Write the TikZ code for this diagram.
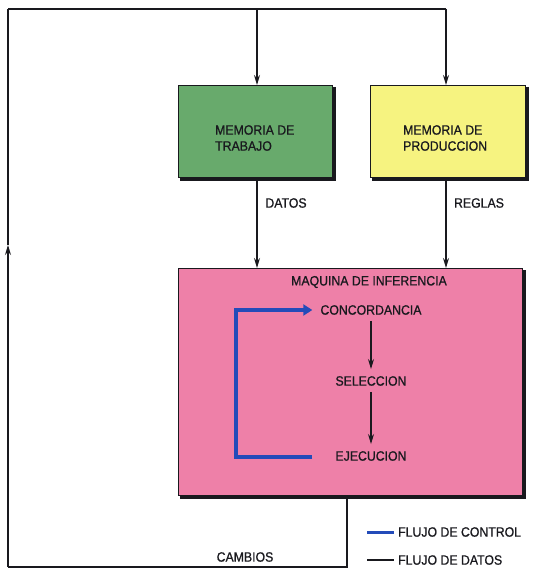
\documentclass[tikz,border=0pt]{standalone}
\usepackage{fontspec}
\setmainfont{Liberation Sans}
\usetikzlibrary{arrows.meta}
\definecolor{boxgreen}{RGB}{104,170,108}
\definecolor{boxyellow}{RGB}{246,243,128}
\definecolor{boxpink}{RGB}{238,128,168}
\definecolor{ctrlblue}{RGB}{35,75,185}
\definecolor{ink}{RGB}{25,25,30}
\tikzset{
  blk/.style={draw=ink, line width=1.2pt, inner sep=0pt, anchor=north west},
  shade/.style={draw=ink, line width=2.8pt},
  lbl/.style={font=\fontsize{13.5}{16}\selectfont\addfontfeature{FakeStretch=0.91,FakeBold=0.8}, text=ink, inner sep=0pt},
  data/.style={draw=ink, line width=1.2pt, -{Stealth[length=10pt,width=6pt]}},
  plain/.style={draw=ink, line width=1.2pt},
  ctrl/.style={draw=ctrlblue, line width=3.6pt},
}
\begin{document}
\begin{tikzpicture}[x=1pt,y=-1pt]
\useasboundingbox (0,0) rectangle (539,569);
% boxes
\node[blk, fill=boxgreen, minimum width=154pt, minimum height=92pt] (mt) at (178,85) {};
\node[blk, fill=boxyellow, minimum width=155pt, minimum height=92pt] (mp) at (370,85) {};
\node[blk, fill=boxpink, minimum width=344pt, minimum height=227pt] (mi) at (178,268) {};
% shadow edges (right and bottom)
\draw[shade] ([xshift=1pt,yshift=-2pt]mt.north east) -- ([xshift=1pt,yshift=-1pt]mt.south east) -- ([xshift=2pt,yshift=-1pt]mt.south west);
\draw[shade] ([xshift=1pt,yshift=-2pt]mp.north east) -- ([xshift=1pt,yshift=-1pt]mp.south east) -- ([xshift=2pt,yshift=-1pt]mp.south west);
\draw[shade] ([xshift=1pt,yshift=-2pt]mi.north east) -- ([xshift=1pt,yshift=-1pt]mi.south east) -- ([xshift=2pt,yshift=-1pt]mi.south west);
% box texts
\node[lbl, anchor=west, align=left] (tmt) at (215,138) {MEMORIA DE\\TRABAJO};
\node[lbl, anchor=west, align=left] (tmp) at (403,138) {MEMORIA DE\\PRODUCCION};
\node[lbl] (tmi) at (369,282) {MAQUINA DE INFERENCIA};
\node[lbl] (conc) at (371,310) {CONCORDANCIA};
\node[lbl] (sel) at (371,381) {SELECCION};
\node[lbl] (eje) at (371,456) {EJECUCION};
% labels
\node[lbl] (datos) at (286,203) {DATOS};
\node[lbl] (reglas) at (479,203) {REGLAS};
\node[lbl] (cambios) at (245,557) {CAMBIOS};
% coordinates of the outer loop
\coordinate (tl) at (8,9);
\coordinate (tr) at (446,9);
\coordinate (tm) at (257,9);
\coordinate (bl) at (8,567);
\coordinate (br) at (347,567);
\coordinate (mib) at (347,495);
\coordinate (la) at (8,245);
% outer loop
\draw[plain] (tl) -- (tr);
\draw[data] (tm) -- (mt.north -| tm);
\draw[data] (tr) -- (mp.north -| tr);
\draw[plain] (mib) -- (br) -- (bl);
\draw[data] (bl) -- (la);
\draw[plain] (la) -- (tl);
% data flows
\draw[data] (mt.south -| tm) -- (mi.north -| tm);
\draw[data] (mp.south -| tr) -- (mi.north -| tr);
\draw[data] ([yshift=-6pt]conc.south) -- ([yshift=7pt]sel.north);
\draw[data] ([yshift=-6pt]sel.south) -- ([yshift=7pt]eje.north);
% control flow
\coordinate (c1) at (312,457);
\coordinate (c2) at (236,457);
\coordinate (c3) at (236,310);
\draw[ctrl, -{Triangle[length=9pt,width=11pt]}] (c1) -- (c2) -- (c3) -- ([xshift=-8pt]conc.west);
% legend
\coordinate (lb1) at (367,532);
\coordinate (lb2) at (394,532);
\coordinate (ld1) at (367,560);
\coordinate (ld2) at (394,560);
\draw[draw=ctrlblue, line width=3pt] (lb1) -- (lb2);
\draw[plain] (ld1) -- (ld2);
\node[lbl, anchor=west] (lgc) at (398,532) {FLUJO DE CONTROL};
\node[lbl, anchor=west] (lgd) at (398,560) {FLUJO DE DATOS};
\end{tikzpicture}
\end{document}
